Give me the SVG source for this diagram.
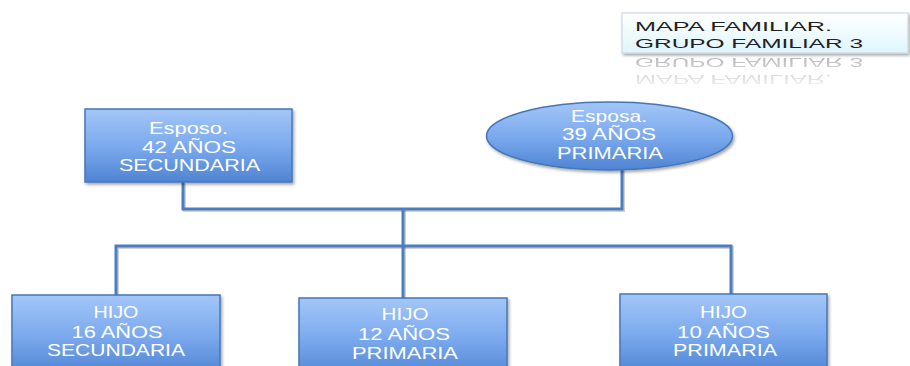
<svg xmlns="http://www.w3.org/2000/svg" width="910" height="366" viewBox="0 0 910 366">
  <defs>
    <linearGradient id="blueFill" x1="0" y1="0" x2="0" y2="1">
      <stop offset="0" stop-color="#a3c6f7"/>
      <stop offset="0.5" stop-color="#7caaee"/>
      <stop offset="1" stop-color="#4f84d3"/>
    </linearGradient>
    <linearGradient id="titleFill" x1="0" y1="0" x2="0" y2="1">
      <stop offset="0" stop-color="#ffffff"/>
      <stop offset="1" stop-color="#def6ff"/>
    </linearGradient>
    <linearGradient id="fade" x1="0" y1="0" x2="0" y2="1">
      <stop offset="0" stop-color="#fff" stop-opacity="0.35"/>
      <stop offset="1" stop-color="#fff" stop-opacity="0"/>
    </linearGradient>
    <mask id="reflectMask" maskUnits="userSpaceOnUse" x="600" y="53" width="310" height="42">
      <rect x="600" y="53" width="310" height="42" fill="url(#fade)"/>
    </mask>
    <filter id="shadow" x="-10%" y="-10%" width="130%" height="140%">
      <feDropShadow dx="1.5" dy="2" stdDeviation="1.5" flood-color="#000" flood-opacity="0.35"/>
    </filter>
  </defs>
  <style>
    .node { fill: url(#blueFill); stroke: #4577b8; stroke-width: 1.5; filter: url(#shadow); }
    .label { font-family: "Liberation Sans", Arial, sans-serif; font-size: 17px; fill: #ffffff; text-anchor: middle; }
    .title { font-family: "Liberation Sans", Arial, sans-serif; font-size: 13px; fill: #222222; }
    .link { fill: none; stroke: #4a7ebf; stroke-width: 3; }
    .linkShadow { fill: none; stroke: #000; stroke-opacity: 0.18; stroke-width: 3; }
  </style>

  <rect width="910" height="366" fill="#ffffff"/>

  <!-- title card with reflection -->
  <g id="title">
    <rect x="622" y="13" width="286" height="40" fill="url(#titleFill)" stroke="#c8d2dc" stroke-width="1" filter="url(#shadow)"/>
    <text class="title" x="635" y="31" textLength="197" lengthAdjust="spacingAndGlyphs">MAPA FAMILIAR.</text>
    <text class="title" x="635" y="48" textLength="228" lengthAdjust="spacingAndGlyphs">GRUPO FAMILIAR 3</text>
    <g mask="url(#reflectMask)">
      <g transform="translate(0,106) scale(1,-1)">
        <text class="title" x="635" y="31" textLength="197" lengthAdjust="spacingAndGlyphs">MAPA FAMILIAR.</text>
        <text class="title" x="635" y="48" textLength="228" lengthAdjust="spacingAndGlyphs">GRUPO FAMILIAR 3</text>
      </g>
    </g>
  </g>

  <!-- connectors -->
  <g id="connectors">
    <g transform="translate(1.5,1.5)">
      <path class="linkShadow" d="M183 182 V209 H622 V169"/>
      <path class="linkShadow" d="M403 209 V246"/>
      <path class="linkShadow" d="M116 295 V246 H731 V294"/>
      <path class="linkShadow" d="M403 246 V298"/>
    </g>
    <path class="link" d="M183 182 V209 H622 V169"/>
    <path class="link" d="M403 209 V246"/>
    <path class="link" d="M116 295 V246 H731 V294"/>
    <path class="link" d="M403 246 V298"/>
  </g>

  <g id="esposo">
    <rect class="node" x="85" y="109" width="207" height="73"/>
    <text class="label" x="188.5" y="134" textLength="79" lengthAdjust="spacingAndGlyphs">Esposo.</text>
    <text class="label" x="189" y="153" textLength="94" lengthAdjust="spacingAndGlyphs">42 AÑOS</text>
    <text class="label" x="189.5" y="171" textLength="141" lengthAdjust="spacingAndGlyphs">SECUNDARIA</text>
  </g>

  <g id="esposa">
    <ellipse class="node" cx="609.5" cy="136" rx="123" ry="34"/>
    <text class="label" x="609" y="122" textLength="76" lengthAdjust="spacingAndGlyphs">Esposa.</text>
    <text class="label" x="609" y="140" textLength="94" lengthAdjust="spacingAndGlyphs">39 AÑOS</text>
    <text class="label" x="610" y="159" textLength="106" lengthAdjust="spacingAndGlyphs">PRIMARIA</text>
  </g>

  <g id="hijo16">
    <rect class="node" x="12" y="295" width="208" height="80"/>
    <text class="label" x="116" y="318" textLength="45" lengthAdjust="spacingAndGlyphs">HIJO</text>
    <text class="label" x="117" y="338" textLength="91" lengthAdjust="spacingAndGlyphs">16 AÑOS</text>
    <text class="label" x="116" y="356" textLength="138" lengthAdjust="spacingAndGlyphs">SECUNDARIA</text>
  </g>

  <g id="hijo12">
    <rect class="node" x="299" y="298" width="208" height="80"/>
    <text class="label" x="405" y="320" textLength="47" lengthAdjust="spacingAndGlyphs">HIJO</text>
    <text class="label" x="404" y="340" textLength="92" lengthAdjust="spacingAndGlyphs">12 AÑOS</text>
    <text class="label" x="405" y="359" textLength="106" lengthAdjust="spacingAndGlyphs">PRIMARIA</text>
  </g>

  <g id="hijo10">
    <rect class="node" x="620" y="294" width="207" height="80"/>
    <text class="label" x="723.5" y="318" textLength="47" lengthAdjust="spacingAndGlyphs">HIJO</text>
    <text class="label" x="723.5" y="338" textLength="93" lengthAdjust="spacingAndGlyphs">10 AÑOS</text>
    <text class="label" x="725" y="356" textLength="104" lengthAdjust="spacingAndGlyphs">PRIMARIA</text>
  </g>
</svg>
